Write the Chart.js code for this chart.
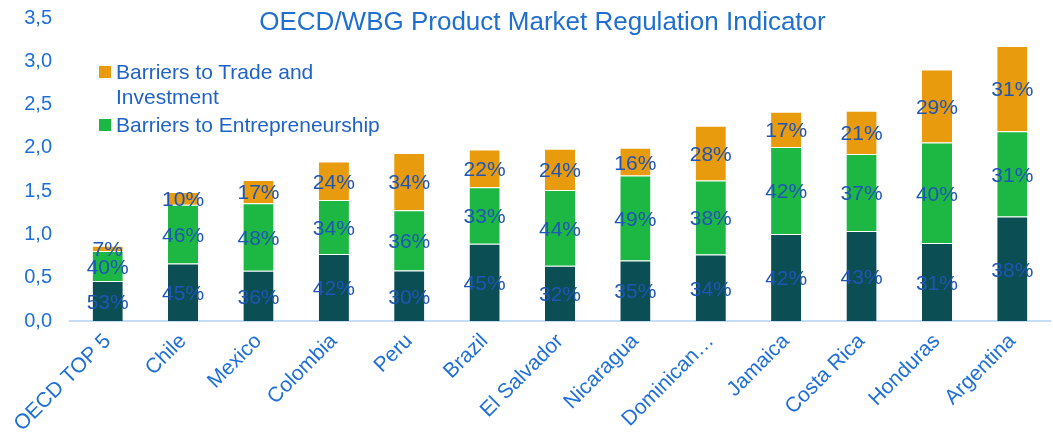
<!DOCTYPE html>
<html>
<head>
<meta charset="utf-8">
<script src="https://cdn.jsdelivr.net/npm/chart.js@4/dist/chart.umd.min.js"></script>
<style>
  html,body{margin:0;padding:0;background:#fff;overflow:hidden;}
  #wrap{position:relative;width:1053px;height:439px;overflow:hidden;font-family:"Liberation Sans",Arial,sans-serif;}
  #c{position:absolute;left:0;top:-12px;}
  #title{position:absolute;left:0;width:1085px;top:6px;text-align:center;font-size:26px;color:#1f6fd0;}
  #legend{position:absolute;left:99px;top:59px;font-size:21px;color:#1f62c8;line-height:25px;}
  #legend .row{position:relative;padding-left:17px;}
  #legend .sw{position:absolute;left:0;top:7px;width:12px;height:12px;}
</style>
</head>
<body>
<div id="wrap">
  <canvas id="c" width="1053" height="451"></canvas>
  <div id="title">OECD/WBG Product Market Regulation Indicator</div>
  <div id="legend">
    <div class="row"><span class="sw" style="background:#e89b0c"></span>Barriers to Trade and<br>Investment</div>
    <div class="row" style="margin-top:3px"><span class="sw" style="background:#1db844"></span>Barriers to Entrepreneurship</div>
  </div>
</div>
<script>
// ─── DATA ───────────────────────────────────────────────────────────
const categories=['OECD TOP 5','Chile','Mexico','Colombia','Peru','Brazil','El Salvador','Nicaragua','Dominican…','Jamaica','Costa Rica','Honduras','Argentina'];
const stateControl=[0.461,0.664,0.58,0.773,0.582,0.891,0.637,0.70,0.767,1.005,1.04,0.90,1.207];
const entrepreneurship=[0.348,0.679,0.78,0.626,0.698,0.653,0.876,0.98,0.857,1.005,0.89,1.162,0.985];
const tradeInvestment=[0.061,0.148,0.27,0.442,0.66,0.436,0.478,0.32,0.631,0.407,0.50,0.842,0.984];
const yTicks=[0,0.5,1,1.5,2,2.5,3,3.5];

const totals=categories.map((_,i)=>stateControl[i]+entrepreneurship[i]+tradeInvestment[i]);
const FONT='"Liberation Sans", Arial, sans-serif';

// percentage labels in each segment
const pctLabels={
  id:'pctLabels',
  afterDatasetsDraw(chart){
    const ctx=chart.ctx;
    ctx.save();
    ctx.font='21px '+FONT;
    ctx.fillStyle='#1f55b5';
    ctx.textAlign='center';ctx.textBaseline='middle';
    chart.data.datasets.forEach((ds,di)=>{
      chart.getDatasetMeta(di).data.forEach((bar,i)=>{
        const p=Math.round(ds.data[i]/totals[i]*100);
        ctx.fillText(p+'%',bar.x,(bar.y+bar.base)/2+2);
      });
    });
    ctx.restore();
  }
};

new Chart(document.getElementById('c'),{
  type:'bar',
  data:{labels:categories,datasets:[
    {label:'State control',data:stateControl,backgroundColor:'#0b4f55',borderColor:'rgba(255,255,255,0.35)',borderWidth:{top:1},borderSkipped:'bottom'},
    {label:'Barriers to Entrepreneurship',data:entrepreneurship,backgroundColor:'#1db844',borderColor:'rgba(255,255,255,0.35)',borderWidth:{top:1},borderSkipped:'bottom'},
    {label:'Barriers to Trade and Investment',data:tradeInvestment,backgroundColor:'#e89b0c',borderColor:'rgba(255,255,255,0.35)',borderWidth:{top:1},borderSkipped:'bottom'}
  ]},
  options:{
    responsive:false,animation:false,
    categoryPercentage:1,barPercentage:0.4,
    layout:{padding:{top:0,right:3,bottom:0,left:0}},
    plugins:{legend:{display:false},tooltip:{enabled:false},title:{display:false}},
    scales:{
      x:{stacked:true,grid:{display:false,drawTicks:false},border:{color:'#c5dcf5',width:2},
        afterFit:s=>{s.height=118;},
        ticks:{maxRotation:45,minRotation:45,autoSkip:false,padding:8,color:'#1f6fd8',font:{size:21,family:FONT}}},
      y:{stacked:true,min:0,max:3.5,grid:{display:false,drawTicks:false},border:{display:false},
        afterFit:s=>{s.width=70;},
        afterBuildTicks:s=>{s.ticks=yTicks.map(v=>({value:v}));},
        ticks:{padding:18,color:'#1f6fd8',font:{size:20,family:FONT},callback:v=>v.toFixed(1).replace('.',',')}}
    }
  },
  plugins:[pctLabels]
});
</script>
</body>
</html>
